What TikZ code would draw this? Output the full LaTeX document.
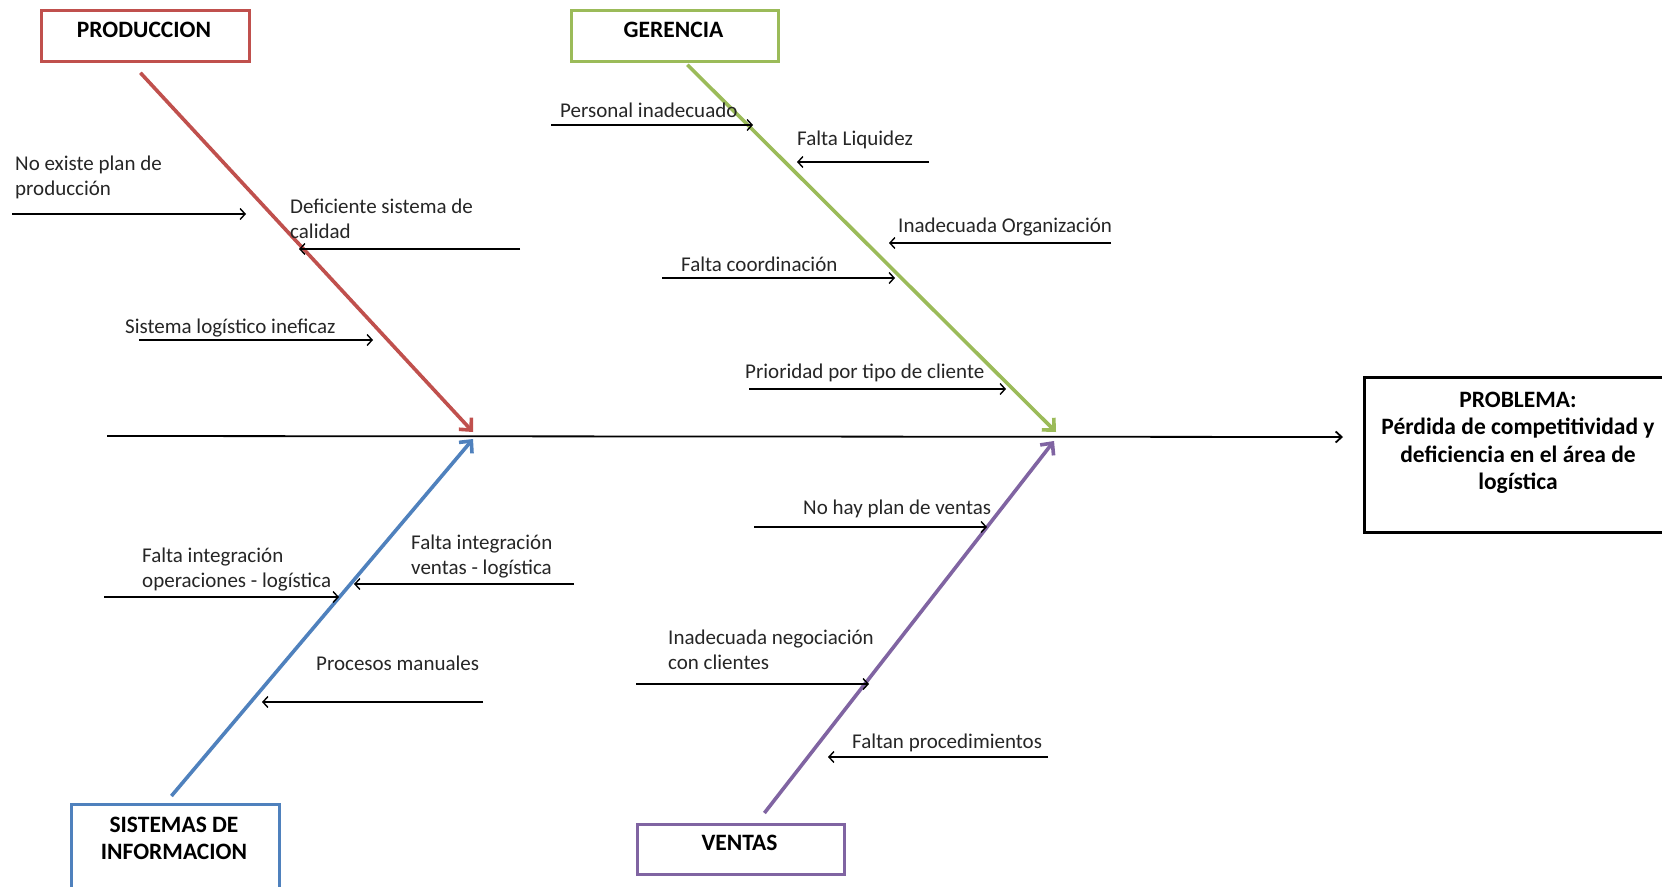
\documentclass[tikz,border=0pt]{standalone}
\usepackage{fontspec}
\setmainfont{Carlito}
\usetikzlibrary{arrows.meta}
\definecolor{cred}{RGB}{192,80,77}
\definecolor{cgreen}{RGB}{155,187,89}
\definecolor{cblue}{RGB}{79,129,189}
\definecolor{cpurple}{RGB}{128,100,162}
\tikzset{
  catbox/.style={draw=#1, line width=2.8pt, inner sep=0pt},
  cattext/.style={font=\fontsize{23.5}{27.5}\selectfont\bfseries, align=center, inner sep=0pt},
  causetext/.style={font=\fontsize{21}{25}\selectfont, align=left, anchor=west, inner sep=0pt, text=black!85},
  bone/.style={draw=#1, line width=3.6pt, -{Straight Barb[length=9pt,width=17pt]}},
  cause/.style={line width=1.4pt, -{Straight Barb[length=5pt,width=11pt]}},
  spine/.style={line width=1.8pt, -{Straight Barb[length=6pt,width=11pt]}}
}
\begin{document}
\begin{tikzpicture}[x=1pt,y=-1pt]
\path[use as bounding box] (0,0) rectangle (1662,886);
\clip (0,0) rectangle (1662,886);
\fill[white] (0,0) rectangle (1662,886);

% category boxes
\node[catbox=cred, minimum width=208pt, minimum height=51pt, anchor=north west] (prod) at (40,9) {};
\node[cattext] (prodt) at (144,30) {PRODUCCION};
\node[catbox=cgreen, minimum width=207pt, minimum height=51pt, anchor=north west] (ger) at (570,9) {};
\node[cattext] (gert) at (673.5,30) {GERENCIA};
\node[catbox=cblue, minimum width=208pt, minimum height=110pt, anchor=north west] (sis) at (70,803) {};
\node[cattext] (sist) at (174,838.5) {SISTEMAS DE\\INFORMACION};
\node[catbox=cpurple, minimum width=207pt, minimum height=50pt, anchor=north west] (ven) at (636,823) {};
\node[cattext] (vent) at (739.5,843) {VENTAS};

% problem box
\node[draw, line width=2.8pt, inner sep=0pt, minimum width=310pt, minimum height=155pt, anchor=north west] (prob) at (1363,376) {};
\node[cattext] (probt) at (1518,443) {PROBLEMA:\\Pérdida de competitividad y\\deficiencia en el área de\\logística};

% spine
\coordinate (sp0) at (107,436);
\coordinate (sp1) at (1343,437);
\draw[spine] (sp0) -- (sp1);

% bones
\coordinate (rtip) at (473,432);
\coordinate (gtip) at (1056,432);
\coordinate (btip) at (473,439);
\coordinate (ptip) at (1054,441);
\draw[bone=cred] ([xshift=-5pt,yshift=-10pt]prod.south) -- (rtip);
\draw[bone=cgreen] ([xshift=12.5pt,yshift=-2pt]ger.south) -- (gtip);
\draw[bone=cblue] ([xshift=-4pt,yshift=7pt]sis.north) -- (btip);
\draw[bone=cpurple] ([xshift=23.5pt,yshift=10pt]ven.north) -- (ptip);

% PRODUCCION causes
\node[causetext] (t1) at (15,177.5) {No existe plan de\\producción};
\coordinate (a1s) at (12,214); \coordinate (a1e) at (246,214);
\draw[cause] (a1s) -- (a1e);
\node[causetext] (t2) at (290,219) {Deficiente sistema de\\calidad};
\coordinate (a2s) at (520,249); \coordinate (a2e) at (299,249);
\draw[cause] (a2s) -- (a2e);
\node[causetext] (t3) at (125,328) {Sistema logístico ineficaz};
\coordinate (a3s) at (139,340); \coordinate (a3e) at (373,340);
\draw[cause] (a3s) -- (a3e);

% GERENCIA causes
\node[causetext] (t4) at (560,110) {Personal inadecuado};
\coordinate (a4s) at (551,125); \coordinate (a4e) at (753,125);
\draw[cause] (a4s) -- (a4e);
\node[causetext] (t5) at (797,140) {Falta Liquidez};
\coordinate (a5s) at (929,162); \coordinate (a5e) at (797,162);
\draw[cause] (a5s) -- (a5e);
\node[causetext] (t6) at (898,227) {Inadecuada Organización};
\coordinate (a6s) at (1111,243); \coordinate (a6e) at (889,243);
\draw[cause] (a6s) -- (a6e);
\node[causetext] (t7) at (681,264) {Falta coordinación};
\coordinate (a7s) at (662,278); \coordinate (a7e) at (895,278);
\draw[cause] (a7s) -- (a7e);
\node[causetext] (t8) at (745,373) {Prioridad por tipo de cliente};
\coordinate (a8s) at (749,389); \coordinate (a8e) at (1006,389);
\draw[cause] (a8s) -- (a8e);

% SISTEMAS causes
\node[causetext] (t9) at (142,570) {Falta integración\\operaciones - logística};
\coordinate (a9s) at (104,597); \coordinate (a9e) at (339,597);
\draw[cause] (a9s) -- (a9e);
\node[causetext] (t10) at (411,557) {Falta integración\\ventas - logística};
\coordinate (a10s) at (574,584); \coordinate (a10e) at (354,584);
\draw[cause] (a10s) -- (a10e);
\node[causetext] (t11) at (316,663) {Procesos manuales};
\coordinate (a11s) at (483,702); \coordinate (a11e) at (262,702);
\draw[cause] (a11s) -- (a11e);

% VENTAS causes
\node[causetext] (t12) at (803,509) {No hay plan de ventas};
\coordinate (a12s) at (754,527); \coordinate (a12e) at (987,527);
\draw[cause] (a12s) -- (a12e);
\node[causetext] (t13) at (668,650) {Inadecuada negociación\\con clientes};
\coordinate (a13s) at (636,684); \coordinate (a13e) at (869,684);
\draw[cause] (a13s) -- (a13e);
\node[causetext] (t14) at (852,743) {Faltan procedimientos};
\coordinate (a14s) at (1048,757); \coordinate (a14e) at (828,757);
\draw[cause] (a14s) -- (a14e);
\end{tikzpicture}
\end{document}
